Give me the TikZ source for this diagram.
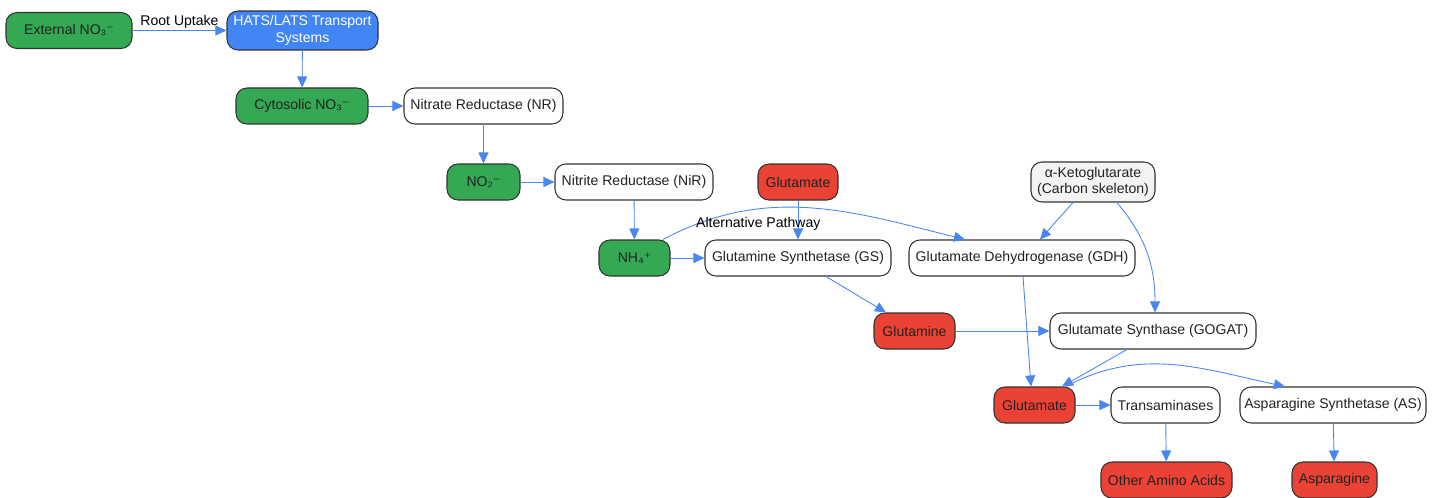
\documentclass[tikz,border=0pt]{standalone}
\usepackage{fontspec}
\setmainfont{Liberation Sans}
\newfontfamily\chargefont{DejaVu Sans}
\usetikzlibrary{arrows.meta}
\definecolor{iongreen}{HTML}{34A853}
\definecolor{aminored}{HTML}{EA4335}
\definecolor{transblue}{HTML}{4285F4}
\definecolor{carbgray}{HTML}{F1F3F4}
\definecolor{flowblue}{HTML}{4A86F0}
\definecolor{boxline}{HTML}{333333}
\definecolor{textdark}{HTML}{222222}
\def\chg#1{{\chargefont #1}}
\tikzset{
	box/.style={draw=boxline, line width=0.6pt, rounded corners=0.22cm, minimum height=0.72cm, inner sep=2pt, align=center, text=textdark, font=\fontsize{8}{9.5}\selectfont},
	ion/.style={box, fill=iongreen},
	amino/.style={box, fill=aminored},
	enzyme/.style={box, fill=white},
	flow/.style={draw=flowblue, line width=0.5pt, -{Triangle[length=2.2mm,width=2mm]}},
	flowlabel/.style={text=black, font=\fontsize{8}{9.5}\selectfont, inner sep=1pt},
}

\begin{document}
\begin{tikzpicture}
			%%%%% START %%%%%
			\useasboundingbox (0, 0) rectangle (28.84, -9.96);
			
			\node[ion, minimum width=2.52cm] (extno3) at (1.38, -0.61) {External NO₃\chg{⁻}};
			\node[box, fill=transblue, text=white, minimum width=3.02cm, minimum height=0.78cm] (hats) at (6.05, -0.61) {HATS/LATS Transport\\Systems};
			\node[ion, minimum width=2.64cm] (cytno3) at (6.04, -2.12) {Cytosolic NO₃\chg{⁻}};
			\node[enzyme, minimum width=3.18cm] (nr) at (9.67, -2.12) {Nitrate Reductase (NR)};
			
			\node[ion, minimum width=1.46cm] (no2) at (9.67, -3.64) {NO₂\chg{⁻}};
			\node[enzyme, minimum width=3.16cm] (nir) at (12.68, -3.64) {Nitrite Reductase (NiR)};
			\node[amino, minimum width=1.60cm] (gluin) at (15.96, -3.64) {Glutamate};
			\node[box, fill=carbgray, minimum width=2.48cm, minimum height=0.80cm] (akg) at (21.86, -3.64) {α-Ketoglutarate\\(Carbon skeleton)};
			
			\node[ion, minimum width=1.42cm] (nh4) at (12.69, -5.16) {NH₄\chg{⁺}};
			\node[enzyme, minimum width=3.72cm] (gs) at (15.96, -5.16) {Glutamine Synthetase (GS)};
			\node[enzyme, minimum width=4.52cm] (gdh) at (20.44, -5.16) {Glutamate Dehydrogenase (GDH)};
			
			\node[amino, minimum width=1.62cm] (gln) at (18.29, -6.62) {Glutamine};
			\node[enzyme, minimum width=4.12cm] (gogat) at (23.06, -6.62) {Glutamate Synthase (GOGAT)};
			
			\node[amino, minimum width=1.62cm] (gluout) at (20.69, -8.10) {Glutamate};
			\node[enzyme, minimum width=2.18cm] (trans) at (23.31, -8.10) {Transaminases};
			\node[enzyme, minimum width=3.72cm] (as) at (26.66, -8.10) {Asparagine Synthetase (AS)};
			
			\node[amino, minimum width=2.62cm] (other) at (23.33, -9.60) {Other Amino Acids};
			\node[amino, minimum width=1.70cm] (asn) at (26.69, -9.60) {Asparagine};
			
			% uptake and reduction
			\draw[flow] (extno3) -- node[flowlabel, above] {Root Uptake} (hats);
			\draw[flow] (hats) -- (cytno3);
			\draw[flow] (cytno3) -- (nr);
			\draw[flow] (nr) -- (no2);
			\draw[flow] (no2) -- (nir);
			\draw[flow] (nir) -- (nh4);
			
			% assimilation
			\draw[flow] (nh4) -- (gs);
			\draw[flow] (gluin) -- (gs);
			\draw[flow] ([xshift=0.57cm]nh4.north) to[out=28, in=166] node[flowlabel, pos=0.32, below=3.5pt] {Alternative Pathway} ([xshift=-1.14cm]gdh.north);
			\draw[flow] ([xshift=-0.4cm]akg.south) -- ([xshift=0.36cm]gdh.north);
			\draw[flow] ([xshift=0.48cm]akg.south) to[out=-50, in=90] ([xshift=0.04cm]gogat.north);
			\draw[flow] ([xshift=0.56cm]gs.south) -- ([xshift=-0.57cm]gln.north);
			\draw[flow] (gln) -- (gogat);
			\draw[flow] ([xshift=0.02cm]gdh.south) -- ([xshift=-0.07cm]gluout.north);
			\draw[flow] ([xshift=-0.52cm]gogat.south) -- ([xshift=0.55cm]gluout.north);
			
			% products
			\draw[flow] ([xshift=0.63cm]gluout.north) to[out=28, in=168] ([xshift=-0.96cm]as.north);
			\draw[flow] (gluout) -- (trans);
			\draw[flow] (trans) -- (other);
			\draw[flow] (as) -- (asn);
			%%%%% END %%%%%
\end{tikzpicture}
\end{document}
